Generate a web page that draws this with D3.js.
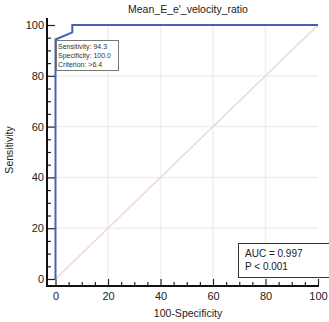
<!DOCTYPE html>
<html>
<head>
<meta charset="utf-8">
<script src="https://cdn.jsdelivr.net/npm/d3@7"></script>
<style>
  body { margin: 0; background: #fff; }
  svg { display: block; font-family: "Liberation Sans", Arial, sans-serif; }
</style>
</head>
<body>
<svg id="chart" width="329" height="322"></svg>
<script>
// ROC points (100-Specificity, Sensitivity)
const fpr = [0, 0, 6.4, 6.4, 100]
const tpr = [0, 94.3, 97.1, 100, 100]
const majorTicks = [0, 20, 40, 60, 80, 100]
const minorTicks = d3.range(0, 101, 5).filter(v => v % 20 !== 0)
const gridTicks = [20, 40, 60, 80]
const tipLines = ["Sensitivity: 94.3", "Specificity: 100.0", "Criterion: >6.4"]
const statLines = ["AUC = 0.997", "P < 0.001"]

const svg = d3.select("#chart")
const x = d3.scaleLinear().domain([0, 100]).range([55.5, 318])
const y = d3.scaleLinear().domain([0, 100]).range([279, 25])
const axisX = 47, axisY = 286

// faint grid
svg.append("g").selectAll("line").data(gridTicks).join("line")
    .attr("x1", d => x(d)).attr("x2", d => x(d))
    .attr("y1", y(100)).attr("y2", y(0))
    .attr("stroke", "#efefef").attr("stroke-width", 1.5)
svg.append("g").selectAll("line").data(gridTicks).join("line")
    .attr("y1", d => y(d)).attr("y2", d => y(d))
    .attr("x1", x(0)).attr("x2", x(100))
    .attr("stroke", "#efefef").attr("stroke-width", 1.5)

// minor ticks
const gMinY = svg.append("g").attr("transform", `translate(${axisX},0)`)
    .call(d3.axisLeft(y).tickValues(minorTicks).tickSizeInner(-4).tickSizeOuter(0).tickFormat(""))
const gMinX = svg.append("g").attr("transform", `translate(0,${axisY})`)
    .call(d3.axisBottom(x).tickValues(minorTicks).tickSizeInner(-4).tickSizeOuter(0).tickFormat(""))

// major ticks + labels
const gY = svg.append("g").attr("transform", `translate(${axisX},0)`)
    .call(d3.axisLeft(y).tickValues(majorTicks).tickSizeInner(-8).tickSizeOuter(0).tickPadding(3))
const gX = svg.append("g").attr("transform", `translate(0,${axisY})`)
    .call(d3.axisBottom(x).tickValues(majorTicks).tickSizeInner(-7).tickSizeOuter(0).tickPadding(6))

;[gMinY, gMinX, gY, gX].forEach(g => {
    g.select(".domain").remove()
    g.selectAll(".tick line").attr("stroke", "#222").attr("stroke-width", 1.2)
    g.selectAll("text").attr("font-size", 11).attr("fill", "#222")
})

// axis lines
svg.append("line").attr("x1", axisX).attr("x2", axisX).attr("y1", 18).attr("y2", axisY + 1)
    .attr("stroke", "#111").attr("stroke-width", 2)
svg.append("line").attr("x1", axisX - 1).attr("x2", 319).attr("y1", axisY).attr("y2", axisY)
    .attr("stroke", "#111").attr("stroke-width", 2)

// reference diagonal
svg.append("line")
    .attr("x1", x(0)).attr("y1", y(0)).attr("x2", x(100)).attr("y2", y(100))
    .attr("stroke", "#ecd8cf").attr("stroke-width", 1.5)

// ROC curve
const line = d3.line().x(d => x(d[0])).y(d => y(d[1]))
svg.append("path")
    .datum(d3.zip(fpr, tpr))
    .attr("d", line)
    .attr("fill", "none")
    .attr("stroke", "#4563b3")
    .attr("stroke-width", 2)

// criterion tooltip
const tip = svg.append("g")
tip.append("rect").attr("x", 56.5).attr("y", 40.5).attr("width", 62).attr("height", 30)
    .attr("fill", "#fff").attr("stroke", "#777").attr("stroke-width", 1)
tip.selectAll("text").data(tipLines).join("text")
    .attr("x", 58).attr("y", (d, i) => 49 + i * 9)
    .attr("font-size", 7).attr("fill", "#333")
    .text(d => d)

// AUC box
const stat = svg.append("g")
stat.append("rect").attr("x", 238.5).attr("y", 243.5).attr("width", 92).attr("height", 34)
    .attr("fill", "#fff").attr("stroke", "#333").attr("stroke-width", 1)
stat.selectAll("text").data(statLines).join("text")
    .attr("x", 245).attr("y", (d, i) => 257 + i * 13)
    .attr("font-size", 10).attr("fill", "#222")
    .text(d => d)

// titles
svg.append("text").attr("x", 188).attr("y", 13).attr("text-anchor", "middle")
    .attr("font-size", 10.5).attr("fill", "#222").text("Mean_E_e'_velocity_ratio")
svg.append("text").attr("x", 188).attr("y", 317).attr("text-anchor", "middle")
    .attr("font-size", 10.5).attr("fill", "#222").text("100-Specificity")
svg.append("text").attr("transform", "translate(13,150) rotate(-90)").attr("text-anchor", "middle")
    .attr("font-size", 10.5).attr("fill", "#222").text("Sensitivity")
</script>
</body>
</html>
